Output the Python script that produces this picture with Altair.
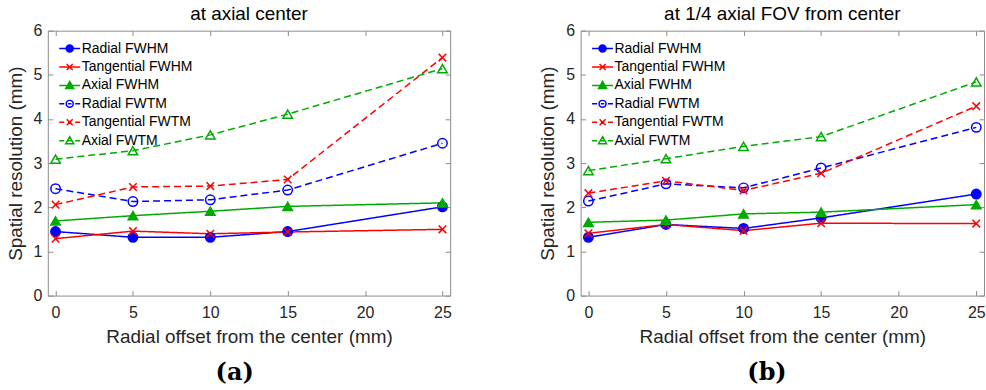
import altair as alt
import pandas as pd

# ---------------- data ----------------
offsets = [0, 5, 10, 15, 25]
series_names = ["Radial FWHM", "Tangential FWHM", "Axial FWHM",
                "Radial FWTM", "Tangential FWTM", "Axial FWTM"]

# (a) at axial center
a_radial_fwhm = [1.45, 1.32, 1.32, 1.45, 2.01]
a_tang_fwhm = [1.29, 1.46, 1.40, 1.44, 1.50]
a_axial_fwhm = [1.69, 1.81, 1.91, 2.02, 2.10]
a_radial_fwtm = [2.42, 2.13, 2.17, 2.39, 3.45]
a_tang_fwtm = [2.06, 2.46, 2.48, 2.63, 5.39]
a_axial_fwtm = [3.09, 3.28, 3.64, 4.11, 5.14]

# (b) at 1/4 axial FOV from center
b_radial_fwhm = [1.32, 1.61, 1.52, 1.76, 2.30]
b_tang_fwhm = [1.41, 1.61, 1.47, 1.64, 1.63]
b_axial_fwhm = [1.66, 1.71, 1.85, 1.89, 2.06]
b_radial_fwtm = [2.14, 2.53, 2.44, 2.89, 3.81]
b_tang_fwtm = [2.32, 2.60, 2.38, 2.77, 4.29]
b_axial_fwtm = [2.83, 3.10, 3.38, 3.60, 4.84]

x_ticks = [0, 5, 10, 15, 20, 25]
y_ticks = [0, 1, 2, 3, 4, 5, 6]

# ---------------- styles ----------------
FONT = "Liberation Sans"
TXT = "#262626"
FRAME = "#8c8c8c"
colors = ["#0000ff", "#ff0000", "#00aa00", "#0000ff", "#ff0000", "#00aa00"]
dashes = [[1, 0], [1, 0], [1, 0], [7, 4], [7, 4], [7, 4]]
X_PATH = "M-0.8,-0.8L0.8,0.8M-0.8,0.8L0.8,-0.8"
shapes = ["circle", X_PATH, "triangle-up", "circle", X_PATH, "triangle-up"]
fills = ["#0000ff", "transparent", "#00aa00", "transparent", "transparent", "transparent"]

SOLID = "M-2.1,0L2.1,0"
DASHED = "M-2.1,0L-1.1,0M-0.35,0L0.35,0M1.1,0L2.1,0"
CIRC = "M0.7,0A0.7,0.7,0,1,1,-0.7,0A0.7,0.7,0,1,1,0.7,0Z"
TRI = "M0,-0.8L0.8,0.6L-0.8,0.6Z"
XS = "M-0.6,-0.6L0.6,0.6M-0.6,0.6L0.6,-0.6"
legend_paths = [SOLID + CIRC, SOLID + XS, SOLID + TRI,
                DASHED + CIRC, DASHED + XS, DASHED + TRI]


def make_legend():
    return alt.Legend(
        title=None, orient="none", legendX=15, legendY=11, direction="vertical",
        labelFont=FONT, labelFontSize=14, labelColor="black",
        symbolSize=100, symbolStrokeWidth=1.5, symbolOpacity=1,
        rowPadding=4.5, labelOffset=5, padding=0,
    )


def make_df(values_list):
    rows = []
    for name, vals in zip(series_names, values_list):
        for xo, v in zip(offsets, vals):
            rows.append({"offset": xo, "value": v, "series": name})
    return pd.DataFrame(rows)


W, H = 404, 266


def panel(df, title, caption, width, cap_dx):
    x = alt.X("offset:Q", scale=alt.Scale(domain=[-0.5, 25.5], nice=False, zero=False),
              axis=alt.Axis(title="Radial offset from the center (mm)", values=x_ticks,
                            gridDash=[5, H - 10, 5, 1000]))
    y = alt.Y("value:Q", scale=alt.Scale(domain=[0, 6], nice=False),
              axis=alt.Axis(title="Spatial resolution (mm)", values=y_ticks, format="d",
                            gridDash=[5, width - 10, 5, 1000]))
    dom = series_names
    # lines use a reversed domain order (same mapping) so their disabled
    # legends are not merged with the visible marker legend
    rdom = series_names[::-1]
    stroke = alt.Stroke("series:N", scale=alt.Scale(domain=dom, range=colors), legend=make_legend())
    fill = alt.Fill("series:N", scale=alt.Scale(domain=dom, range=fills), legend=make_legend())

    lines = alt.Chart(df).mark_line(strokeWidth=1.5).encode(
        x=x, y=y,
        color=alt.Color("series:N", scale=alt.Scale(domain=rdom, range=colors[::-1]), legend=None),
        strokeDash=alt.StrokeDash("series:N", scale=alt.Scale(domain=rdom, range=dashes[::-1]),
                                  legend=None),
        order=alt.Order("offset:Q"),
    )
    # invisible layer that only feeds the legend (line + marker symbols)
    legend_src = alt.Chart(df).mark_point(opacity=0, strokeWidth=1.5).encode(
        x=x, y=y, stroke=stroke, fill=fill,
        shape=alt.Shape("series:N", scale=alt.Scale(domain=dom, range=legend_paths),
                        legend=make_legend()),
    )
    layers = [lines, legend_src]
    for shp in ["circle", X_PATH, "triangle-up"]:
        members = [n for n, s in zip(series_names, shapes) if s == shp]
        layers.append(
            alt.Chart(df).transform_filter(
                alt.FieldOneOfPredicate(field="series", oneOf=members)
            ).mark_point(shape=shp, opacity=1, size=90, strokeWidth=1.5, filled=False).encode(
                x=x, y=y, stroke=stroke, fill=fill,
            )
        )
    inner = alt.layer(*layers).properties(
        width=width, height=H,
        title=alt.TitleParams(title, font=FONT, fontSize=19, fontWeight="normal",
                              color="black", offset=-1, anchor="middle"),
    )
    return alt.vconcat(inner).properties(
        title=alt.TitleParams(caption, orient="bottom", font="DejaVu Serif", fontSize=24,
                              fontWeight="bold", color="black", anchor="middle",
                              dx=cap_dx, offset=14)
    ).resolve_scale(stroke="independent", fill="independent", shape="independent",
                    color="independent", strokeDash="independent"
    ).resolve_legend(stroke="independent", fill="independent", shape="independent")


a_df = make_df([a_radial_fwhm, a_tang_fwhm, a_axial_fwhm, a_radial_fwtm, a_tang_fwtm, a_axial_fwtm])
b_df = make_df([b_radial_fwhm, b_tang_fwhm, b_axial_fwhm, b_radial_fwtm, b_tang_fwtm, b_axial_fwtm])

chart = alt.hconcat(
    panel(a_df, "at axial center", "(a)", W, 6),
    panel(b_df, "at 1/4 axial FOV from center", "(b)", W + 1, 5),
    spacing=86,
).resolve_scale(stroke="independent", fill="independent", shape="independent",
                color="independent", strokeDash="independent", x="independent", y="independent"
).resolve_legend(stroke="independent", fill="independent", shape="independent").properties(
    padding={"left": 5, "top": 3, "right": 0, "bottom": 0},
    background="white",
).configure_view(stroke=FRAME, strokeWidth=1).configure_axis(
    domain=False, ticks=False, grid=True, gridColor=FRAME, gridWidth=1, gridOpacity=1,
    labelFont=FONT, labelFontSize=16, labelColor=TXT,
    titleFont=FONT, titleFontSize=19, titleFontWeight="normal", titleColor=TXT,
).configure_axisX(labelPadding=9, titlePadding=7).configure_axisY(labelPadding=6, titlePadding=8)

chart.save("out.html", embed_options={"renderer": "svg", "actions": False})
